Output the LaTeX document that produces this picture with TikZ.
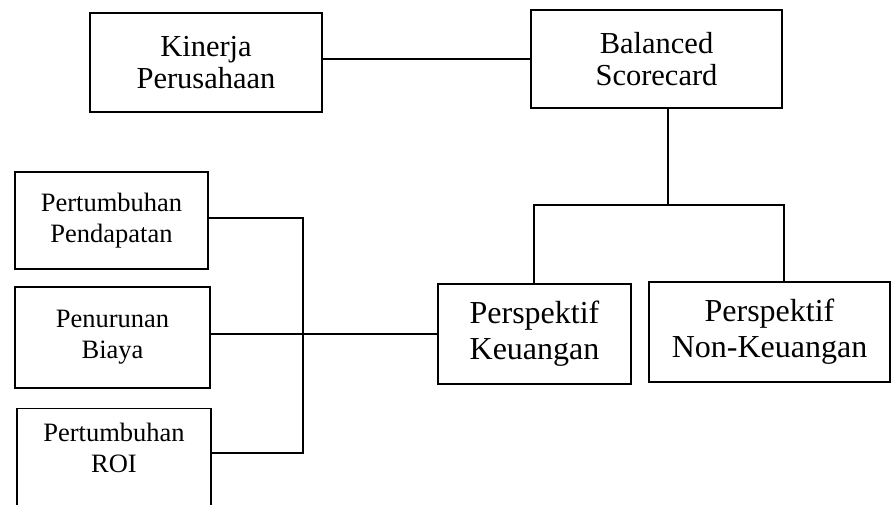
\documentclass[tikz,border=0pt]{standalone}
\usepackage{fontspec}
\setmainfont{Liberation Serif}
\begin{document}
\begin{tikzpicture}[x=1pt,y=-1pt,
  box/.style={draw=black, line width=1.2pt, rectangle, inner sep=0pt, align=center, fill=white},
  topfont/.style={font=\fontsize{30.5}{32}\selectfont},
  midfont/.style={font=\fontsize{32}{36}\selectfont},
  leftfont/.style={font=\fontsize{26.5}{31}\selectfont},
  conn/.style={draw=black, line width=1.1pt}]
\useasboundingbox (0,0) rectangle (892,504);
\clip (0,0) rectangle (892,504);
\fill[white] (0,0) rectangle (892,504);
% top boxes
\node[box, topfont, minimum width=232pt, minimum height=99pt] (kp) at (206,62.5) {Kinerja\\Perusahaan};
\node[box, topfont, minimum width=251pt, minimum height=98pt] (bs) at (656.5,59) {Balanced\\Scorecard};
% perspective boxes
\node[box, midfont, minimum width=193pt, minimum height=100pt] (pk) at (534.5,334) {Perspektif\\Keuangan};
\node[box, midfont, minimum width=241pt, minimum height=100pt] (pn) at (769.5,332) {Perspektif\\Non-Keuangan};
% left boxes
\node[box, leftfont, minimum width=193pt, minimum height=97pt] (pp) at (111.5,220.5) {Pertumbuhan\\Pendapatan};
\node[box, leftfont, minimum width=195pt, minimum height=101pt] (pb) at (112.5,337.5) {Penurunan\\Biaya};
\node[box, leftfont, minimum width=194pt, anchor=north] (pr) at (114,408) {\parbox[t][130pt][t]{190pt}{\centering\vspace{15pt}Pertumbuhan\\ROI}};
% junction coordinates
\coordinate (bj) at (668,205);
\coordinate (bl) at (534,205);
\coordinate (br) at (784,205);
\coordinate (lt) at (303,218);
\coordinate (lb) at (303,453);
% connectors
\draw[conn] (kp.east |- bs.west) -- (bs.west);
\draw[conn] (bs.south -| bj) -- (bj);
\draw[conn] (pk.north -| bl) -- (bl) -- (br) -- (pn.north -| br);
\draw[conn] (pp.east |- lt) -- (lt) -- (lb) -- (pr.east |- lb);
\draw[conn] (pb.east |- pk.west) -- (pk.west);
\end{tikzpicture}
\end{document}
